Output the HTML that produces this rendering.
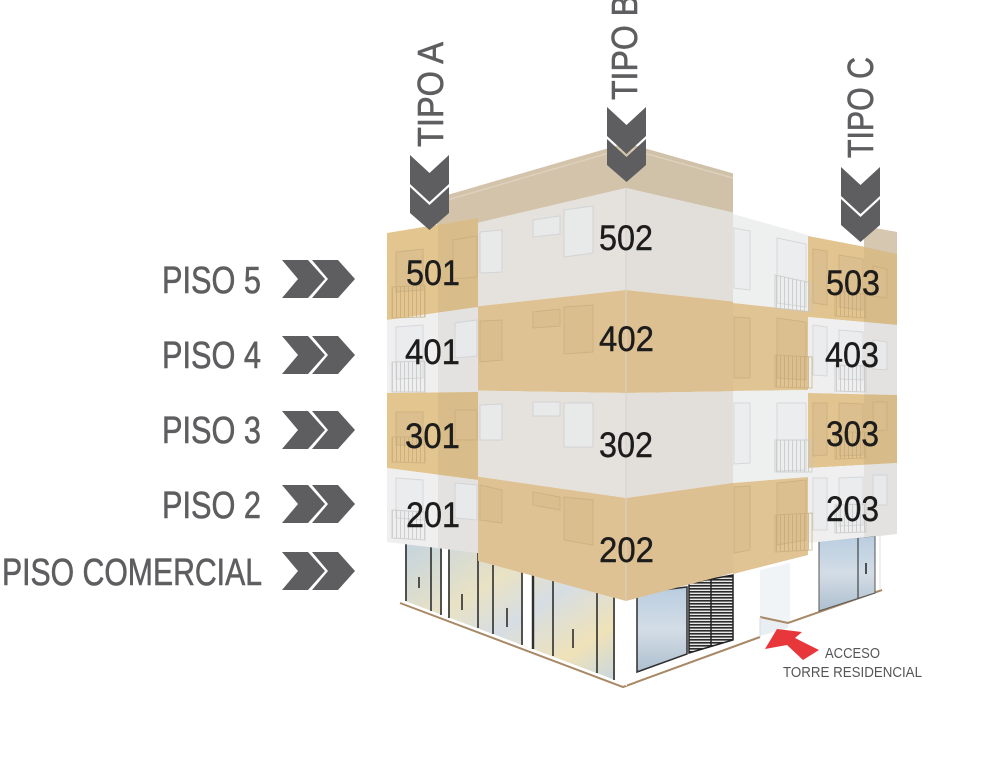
<!DOCTYPE html>
<html><head><meta charset="utf-8"><style>
html,body{margin:0;padding:0;background:#fff;}
svg{display:block;}
text{font-family:"Liberation Sans",sans-serif;}
</style></head><body>
<svg width="1000" height="777" viewBox="0 0 1000 777" xmlns="http://www.w3.org/2000/svg">
<defs>
<linearGradient id="glass" x1="0" y1="0" x2="1" y2="1">
<stop offset="0" stop-color="#c4d4e0"/><stop offset="0.35" stop-color="#e9e2c4"/><stop offset="0.55" stop-color="#d6dde3"/><stop offset="0.8" stop-color="#efe2b8"/><stop offset="1" stop-color="#c9d6df"/>
</linearGradient>
<linearGradient id="glass2" x1="0" y1="0" x2="0" y2="1">
<stop offset="0" stop-color="#b9cde0"/><stop offset="0.5" stop-color="#d3dde6"/><stop offset="1" stop-color="#aebfcf"/>
</linearGradient>
<pattern id="rail" width="4" height="10" patternUnits="userSpaceOnUse"><rect width="1" height="10" fill="#c4c4c4"/></pattern>
<pattern id="railt" width="4" height="10" patternUnits="userSpaceOnUse"><rect width="1" height="10" fill="#c4a878"/></pattern>
<pattern id="louv" width="6" height="3" patternUnits="userSpaceOnUse"><rect width="6" height="3" fill="#e6e6e6"/><rect width="6" height="1.6" fill="#2b2b2b"/></pattern>
</defs>

<!-- ground lines -->
<polyline points="400,603 623,687 760,637" fill="none" stroke="#a88865" stroke-width="2"/>
<polygon points="760,570 790,563 790,623 760,617" fill="#f1f4f6"/>
<polygon points="760,617 788,623 788,628 760,636" fill="#e8eef2"/>
<polyline points="760,617 788,623 882,590" fill="none" stroke="#a88865" stroke-width="2"/>
<line x1="760" y1="617" x2="760" y2="637" stroke="#d6dcdf" stroke-width="1"/>
<line x1="880" y1="534" x2="880" y2="590" stroke="#e2e2e2" stroke-width="1"/>

<!-- left commercial glass -->
<polygon points="405,543 478,552 615,596 615,680 405,601" fill="url(#glass)"/>
<polygon points="442,548 448,549 448,617 442,615" fill="#ffffff"/>
<polygon points="523,572 532,575 532,649 523,645" fill="#ffffff"/>
<polygon points="615,596 627,600 627,686 615,681" fill="#ffffff"/>
<g stroke="#2e2e2e" stroke-width="1.6">
<line x1="406" y1="544" x2="406" y2="601"/>
<line x1="431" y1="547" x2="431" y2="611"/>
<line x1="441" y1="548" x2="441" y2="615"/>
<line x1="449" y1="549" x2="449" y2="618"/>
<line x1="478" y1="553" x2="478" y2="628"/>
<line x1="493" y1="565" x2="493" y2="634"/>
<line x1="522" y1="572" x2="522" y2="645"/>
<line x1="533" y1="575" x2="533" y2="649" stroke-width="2.4"/>
<line x1="553" y1="581" x2="553" y2="656"/>
<line x1="597" y1="593" x2="597" y2="673"/>
<line x1="614" y1="597" x2="614" y2="680"/>
</g>
<g stroke="#222" stroke-width="1.5">
<line x1="419" y1="577" x2="419" y2="588"/><line x1="462" y1="594" x2="462" y2="610"/>
<line x1="507" y1="608" x2="507" y2="627"/><line x1="573" y1="629" x2="573" y2="648"/>
</g>

<!-- right commercial -->
<polygon points="637,593 687,587 687,654 637,672" fill="url(#glass2)" stroke="#2e2e2e" stroke-width="1.5"/>
<polygon points="689,583 733,575 733,640 689,653" fill="url(#louv)" stroke="#222" stroke-width="1.5"/>
<line x1="711" y1="579" x2="711" y2="647" stroke="#222" stroke-width="1.5"/>
<polygon points="819,541 875,536 875,593 819,611" fill="url(#glass2)" stroke="#555" stroke-width="1"/>
<line x1="858" y1="537" x2="858" y2="598" stroke="#444" stroke-width="1.2"/>
<line x1="866" y1="563" x2="866" y2="574" stroke="#222" stroke-width="1.5"/>

<!-- parapet -->
<polygon points="437,198 626,143 626,188 437,232.5" fill="#d3c3aa"/>
<polygon points="626,143 733,173.4 733,212.6 626,188" fill="#d0c1a9"/>
<polyline points="437,203 626,148 733,178" fill="none" stroke="#ddd0bc" stroke-width="1.5"/>

<!-- main left face -->
<polygon points="478,222.8 626,188 626,290 478,306.3" fill="#e5e1dc"/>
<polygon points="478,306.3 626,290 626,393 478,390.6" fill="#dec293"/>
<polygon points="478,390.6 626,393 626,498 478,476.6" fill="#e5e1dc"/>
<polygon points="478,476.6 626,498 626,601 478,560.9" fill="#dec293"/>
<!-- main right face -->
<polygon points="626,188 733,212.6 733,301.5 626,290" fill="#e2ded9"/>
<polygon points="626,290 733,301.5 733,391.3 626,393" fill="#dcc092"/>
<polygon points="626,393 733,391.3 733,482.9 626,498" fill="#e2ded9"/>
<polygon points="626,498 733,482.9 733,573 626,601" fill="#dcc092"/>
<line x1="626" y1="188" x2="626" y2="601" stroke="#d8d2ca" stroke-width="1"/>
<!-- section 733-808 -->
<polygon points="733,214 808,235 808,311 733,303" fill="#eef0ef"/>
<polygon points="733,303 808,311 808,390 733,391" fill="#e0c494"/>
<polygon points="733,391 808,390 808,477 733,483" fill="#eef0ef"/>
<polygon points="733,483 808,477 808,555 733,574" fill="#e0c494"/>

<!-- TIPO A section -->
<polygon points="387,233 478,218 478,307 387,320" fill="#e3c58f"/>
<polygon points="387,320 478,307 478,392 387,393" fill="#efefef"/>
<polygon points="387,393 478,392 478,480 387,468" fill="#e3c58f"/>
<polygon points="387,468 478,480 478,553 387,542" fill="#efefef"/>
<polygon points="438,225 478,218 478,553 438,548" fill="#7d7264" opacity="0.1"/>

<!-- TIPO C section -->
<polygon points="808,236 897,253 897,325 808,317" fill="#e1c48f"/>
<polygon points="808,317 897,325 897,395 808,393" fill="#efefef"/>
<polygon points="808,393 897,395 897,463 808,468" fill="#e1c48f"/>
<polygon points="808,468 897,463 897,534 808,543" fill="#efefef"/>
<polygon points="864,226 897,232 897,254 864,247" fill="#d6c7b0"/>
<polygon points="864,247 897,254 897,534 864,538" fill="#7d7264" opacity="0.1"/>

<!-- windows: gray bands -->
<g fill="#eaecee" stroke="#cdd0d4" stroke-width="1" opacity="0.75">
<polygon points="480,232 502,230 502,272 480,273"/>
<polygon points="533,220 560,216 560,234 533,237"/>
<polygon points="564,210 593,206 593,253 564,257"/>
<polygon points="480,405 502,404 502,440 480,440"/>
<polygon points="533,402 560,402 560,416 533,416"/>
<polygon points="564,403 593,403 593,447 564,447"/>
<polygon points="734,228 750,231 750,290 734,288"/>
<polygon points="777,238 806,244 806,307 777,303"/>
<polygon points="734,403 750,403 750,463 734,464"/>
<polygon points="777,403 806,403 806,470 777,471"/>
<polygon points="396,327 423,325 423,378 396,379"/>
<polygon points="455,323 477,320 477,356 455,358"/>
<polygon points="396,478 423,480 423,520 396,518"/>
<polygon points="455,483 477,485 477,520 455,518"/>
<polygon points="813,325 827,327 827,376 813,375"/>
<polygon points="839,330 863,332 863,380 839,379"/>
<polygon points="873,340 887,342 887,370 873,369"/>
<polygon points="813,478 827,478 827,530 813,530"/>
<polygon points="839,478 863,477 863,525 839,526"/>
<polygon points="873,475 887,475 887,505 873,505"/>
</g>
<g fill="url(#rail)" stroke="#c6c6c6" stroke-width="1" opacity="0.75">
<polygon points="775,275 812,283 812,312 775,308"/>
<polygon points="775,440 812,440 812,472 775,472"/>
<polygon points="392,362 425,361 425,392 392,392"/>
<polygon points="392,510 425,512 425,540 392,538"/>
<polygon points="835,365 866,366 866,392 835,391"/>
<polygon points="835,505 866,504 866,532 835,533"/>
</g>
<!-- windows: tan bands -->
<g fill="#dabe8e" stroke="#caae7e" stroke-width="1" opacity="0.8">
<polygon points="480,321 502,320 502,360 480,362"/>
<polygon points="533,312 560,309 560,326 533,328"/>
<polygon points="564,307 593,305 593,352 564,354"/>
<polygon points="480,485 502,490 502,523 480,520"/>
<polygon points="533,492 560,497 560,510 533,505"/>
<polygon points="564,497 593,500 593,545 564,540"/>
<polygon points="734,317 750,318 750,378 734,378"/>
<polygon points="777,318 806,322 806,380 777,378"/>
<polygon points="734,487 750,486 750,550 734,553"/>
<polygon points="777,483 806,480 806,540 777,545"/>
<polygon points="396,252 423,249 423,290 396,292"/>
<polygon points="453,240 477,236 477,277 453,279"/>
<polygon points="396,412 423,412 423,445 396,445"/>
<polygon points="455,410 477,410 477,440 455,440"/>
<polygon points="813,249 827,251 827,305 813,303"/>
<polygon points="839,255 863,259 863,310 839,307"/>
<polygon points="873,266 887,269 887,298 873,296"/>
<polygon points="813,403 827,403 827,455 813,456"/>
<polygon points="839,403 863,404 863,455 839,456"/>
<polygon points="873,402 887,402 887,430 873,431"/>
</g>
<g fill="url(#railt)" stroke="#c8ab78" stroke-width="1" opacity="0.7">
<polygon points="775,355 812,357 812,388 775,387"/>
<polygon points="775,515 812,513 812,550 775,552"/>
<polygon points="392,287 425,285 425,317 392,318"/>
<polygon points="392,437 425,437 425,463 392,462"/>
<polygon points="835,290 866,294 866,318 835,316"/>
<polygon points="835,432 866,432 866,458 835,459"/>
</g>

<!-- unit numbers -->
<g fill="#1c1c1c" font-size="35" stroke="#1c1c1c" stroke-width="0.4">
<text x="406" y="285" textLength="54" lengthAdjust="spacingAndGlyphs">501</text>
<text x="599" y="250" textLength="54" lengthAdjust="spacingAndGlyphs">502</text>
<text x="826" y="295" textLength="54" lengthAdjust="spacingAndGlyphs">503</text>
<text x="405" y="364" textLength="55" lengthAdjust="spacingAndGlyphs">401</text>
<text x="599" y="351" textLength="55" lengthAdjust="spacingAndGlyphs">402</text>
<text x="825" y="367" textLength="54" lengthAdjust="spacingAndGlyphs">403</text>
<text x="405" y="448" textLength="55" lengthAdjust="spacingAndGlyphs">301</text>
<text x="599" y="457" textLength="54" lengthAdjust="spacingAndGlyphs">302</text>
<text x="826" y="446" textLength="53" lengthAdjust="spacingAndGlyphs">303</text>
<text x="406" y="527" textLength="54" lengthAdjust="spacingAndGlyphs">201</text>
<text x="599" y="562" textLength="55" lengthAdjust="spacingAndGlyphs">202</text>
<text x="826" y="521" textLength="53" lengthAdjust="spacingAndGlyphs">203</text>
</g>

<!-- floor labels -->
<g fill="#5e5e60" font-size="38" stroke="#5e5e60" stroke-width="0.6">
<text x="162" y="293" textLength="99" lengthAdjust="spacingAndGlyphs">PISO 5</text>
<text x="162" y="368" textLength="99" lengthAdjust="spacingAndGlyphs">PISO 4</text>
<text x="162" y="443" textLength="99" lengthAdjust="spacingAndGlyphs">PISO 3</text>
<text x="162" y="518" textLength="99" lengthAdjust="spacingAndGlyphs">PISO 2</text>
<text x="2" y="585" textLength="260" lengthAdjust="spacingAndGlyphs">PISO COMERCIAL</text>
</g>
<g fill="#5e5e60">
<g id="hc">
<polygon points="282,260 308,260 325,279 308,298 282,298 298,279"/>
<polygon points="312,260 338,260 355,279 338,298 312,298 328,279"/>
</g>
<use href="#hc" transform="translate(0,76)"/>
<use href="#hc" transform="translate(0,151)"/>
<use href="#hc" transform="translate(0,225)"/>
<use href="#hc" transform="translate(0,292)"/>
</g>

<!-- TIPO labels -->
<g fill="#5e5e60" font-size="36" stroke="#5e5e60" stroke-width="0.6">
<text transform="translate(443,147) rotate(-90)" textLength="105" lengthAdjust="spacingAndGlyphs">TIPO A</text>
<text transform="translate(637,100) rotate(-90)" textLength="105" lengthAdjust="spacingAndGlyphs">TIPO B</text>
<text transform="translate(873,158) rotate(-90)" textLength="101" lengthAdjust="spacingAndGlyphs">TIPO C</text>
</g>
<g fill="#5e5e60">
<g id="vc">
<polygon points="410,155 429.5,173 449,155 449,184 429.5,202 410,184"/>
<polygon points="410,187 429.5,205 449,187 449,213 429.5,230 410,213"/>
</g>
<use href="#vc" transform="translate(197,-48)"/>
<use href="#vc" transform="translate(431,12)"/>
</g>

<!-- access arrow -->
<polygon points="765,649 777,629 802,632 795,638 819,650 803,660 787,645" fill="#e8373a"/>
<g fill="#555557" font-size="15">
<text x="825" y="658" textLength="55" lengthAdjust="spacingAndGlyphs">ACCESO</text>
<text x="783" y="677" textLength="139" lengthAdjust="spacingAndGlyphs">TORRE RESIDENCIAL</text>
</g>
</svg>
</body></html>
